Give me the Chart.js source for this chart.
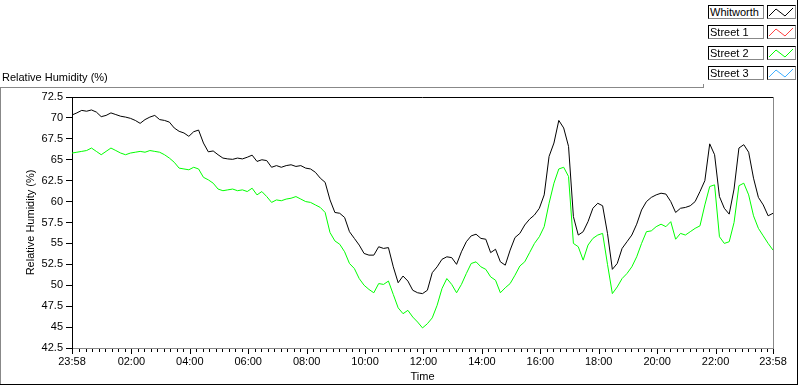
<!DOCTYPE html>
<html><head><meta charset="utf-8">
<script src="https://cdn.jsdelivr.net/npm/chart.js@4.4.1/dist/chart.umd.min.js"></script>
<style>
html,body{margin:0;padding:0;background:#fff;}
body{width:800px;height:386px;position:relative;overflow:hidden;font-family:"Liberation Sans",Arial,sans-serif;}
#c{position:absolute;left:0;top:0;}
.t{position:absolute;font-size:11px;line-height:13px;color:#000;white-space:nowrap;}
.box{position:absolute;box-sizing:border-box;height:14px;border-style:solid;border-width:1px;border-color:#000 #888 #888 #000;background:#fff;overflow:hidden;}
.nm{font-size:11px;line-height:12px;padding-left:1px;white-space:nowrap;color:#000;}
.ln{position:absolute;}
</style></head><body>
<canvas id="c" width="800" height="386"></canvas>
<div class="t" style="left:2px;top:71px">Relative Humidity (%)</div>
<div id="legend"></div>
<div class="ln" style="left:0;top:87px;width:704px;height:1px;background:#888"></div>
<div class="ln" style="left:703px;top:84px;width:1px;height:4px;background:#888"></div>
<div class="ln" style="left:0;top:87px;width:1px;height:298px;background:#888"></div>
<div class="ln" style="left:797px;top:0;width:1px;height:385px;background:#000"></div>
<div class="ln" style="left:0;top:384px;width:798px;height:1px;background:#000"></div>
<script>
// ---- data (one sample every 10 minutes from 23:58) ----
const seriesNames = ['Whitworth', 'Street 1', 'Street 2', 'Street 3'];
const seriesColors = ['#000000', '#ff4040', '#00ff00', '#40b0ff'];

const whitworth = [
70.35,70.6,70.9,70.8,70.95,70.7,70.15,70.3,70.6,70.4,
70.2,70.1,69.95,69.7,69.35,69.8,70.1,70.3,69.8,69.7,
69.5,68.8,68.4,68.2,67.8,68.35,68.55,67.0,65.95,66.05,
65.6,65.2,65.1,65.05,65.2,65.1,65.3,65.55,64.8,65.0,
64.9,64.1,64.3,64.1,64.3,64.4,64.2,64.3,64.0,63.9,
63.5,62.8,62.3,60.2,58.7,58.6,58.1,56.4,55.6,54.8,
53.8,53.6,53.6,54.6,54.4,54.5,52.2,50.3,51.1,50.5,
49.4,49.1,49.0,49.4,51.5,52.2,53.1,53.4,53.3,52.5,
54.0,55.2,55.9,56.1,55.6,55.5,53.9,54.3,52.8,52.4,
54.2,55.7,56.2,57.2,57.9,58.4,59.2,60.8,65.4,67.0,
69.7,68.8,66.6,58.2,56.0,56.4,57.6,59.2,59.8,59.5,
56.2,51.9,52.6,54.4,55.2,56.0,57.3,59.0,60.0,60.5,
60.8,61.0,60.9,60.0,58.7,59.2,59.3,59.5,60.0,61.2,
62.5,66.9,65.6,60.6,59.2,58.5,61.5,66.4,66.8,65.9,
62.8,60.5,59.6,58.3,58.6
];
const street2 = [
65.8,65.9,66.0,66.1,66.4,66.0,65.6,66.0,66.4,66.1,
65.8,65.6,65.8,65.9,66.0,65.9,66.1,66.0,65.9,65.6,
65.2,64.7,64.0,63.9,63.8,64.1,63.9,62.9,62.6,62.2,
61.5,61.3,61.4,61.5,61.3,61.4,61.2,61.6,60.8,61.2,
60.6,59.9,60.2,60.1,60.3,60.4,60.6,60.3,60.0,59.9,
59.6,59.3,58.7,56.3,55.3,54.9,54.0,52.6,52.0,50.8,
50.0,49.5,49.1,50.2,50.1,50.5,48.9,47.3,46.6,47.0,
46.2,45.6,44.9,45.4,46.1,47.6,49.6,50.8,50.1,49.1,
50.1,51.4,52.6,52.8,52.2,51.9,51.0,50.6,49.1,49.7,
50.2,51.2,52.3,52.8,53.9,55.0,55.8,57.0,59.8,62.2,
63.9,64.1,63.0,55.0,54.6,53.0,54.8,55.6,56.0,56.2,
52.5,49.0,49.8,50.8,51.4,52.2,53.4,55.0,56.4,56.5,
57.0,57.3,57.0,57.6,55.5,56.2,56.0,56.4,56.8,57.1,
59.6,61.8,62.0,55.8,55.0,55.2,57.5,61.9,62.2,60.8,
58.3,56.8,55.9,55.0,54.2
];
const sampleStepMinutes = 10;

// axis ticks
const majorTickMinutes = [0,122,242,362,482,602,722,842,962,1082,1202,1322,1440];
const majorTickLabels = ['23:58','02:00','04:00','06:00','08:00','10:00','12:00','14:00','16:00','18:00','20:00','22:00','23:58'];
const yTickValues = [42.5,45,47.5,50,52.5,55,57.5,60,62.5,65,67.5,70,72.5];

// ---- legend (HTML) ----
const legend = document.getElementById('legend');
seriesNames.forEach((name, i) => {
  const top = 5 + Math.round(i * 20.25);
  const nb = document.createElement('div');
  nb.className = 'box';
  nb.style.cssText = `left:708px;top:${top}px;width:56px;`;
  nb.innerHTML = `<div class="nm">${name}</div>`;
  legend.appendChild(nb);
  const sw = document.createElement('div');
  sw.className = 'box';
  sw.style.cssText = `left:767px;top:${top}px;width:29px;`;
  sw.innerHTML = `<svg width="27" height="12" style="display:block"><polyline points="1,10 8,3 17,10 25,2" fill="none" stroke="${seriesColors[i]}" stroke-width="1"/></svg>`;
  legend.appendChild(sw);
});

// ---- chart ----
const FONT = {family: '"Liberation Sans", Arial, sans-serif', size: 11};
const toXY = arr => arr.map((v, i) => ({x: i * sampleStepMinutes, y: v}));

const minorTicks = [];
for (let k = 0; k < majorTickMinutes.length - 1; k++) {
  const a = majorTickMinutes[k], b = majorTickMinutes[k + 1];
  if (k === 0) { for (let j = 8; j >= 1; j--) minorTicks.push(b - j * 120 / 9); }
  else { for (let j = 1; j <= 8; j++) { const v = a + j * 120 / 9; if (v < b - 4) minorTicks.push(v); } }
}

const frameAndTicks = {
  id: 'frameAndTicks',
  afterDraw(chart) {
    const {ctx, chartArea: ca} = chart;
    const xs = chart.scales.x;
    ctx.save();
    ctx.lineWidth = 1;
    // top border (black) and right border (grey) of the plot box
    ctx.strokeStyle = '#000';
    ctx.beginPath(); ctx.moveTo(ca.left, Math.round(ca.top) + 0.5); ctx.lineTo(ca.right, Math.round(ca.top) + 0.5); ctx.stroke();
    ctx.strokeStyle = '#888';
    ctx.beginPath(); ctx.moveTo(Math.round(ca.right) + 0.5, ca.top); ctx.lineTo(Math.round(ca.right) + 0.5, ca.bottom + 1); ctx.stroke();
    // x tick marks
    ctx.strokeStyle = '#000';
    const y0 = Math.round(ca.bottom) + 1;
    minorTicks.forEach(v => {
      const px = Math.round(xs.getPixelForValue(v)) + 0.5;
      ctx.beginPath(); ctx.moveTo(px, y0); ctx.lineTo(px, y0 + 3); ctx.stroke();
    });
    majorTickMinutes.forEach(v => {
      const px = Math.round(xs.getPixelForValue(v)) + 0.5;
      ctx.beginPath(); ctx.moveTo(px, y0); ctx.lineTo(px, y0 + 5); ctx.stroke();
    });
    ctx.restore();
  }
};

new Chart(document.getElementById('c'), {
  type: 'line',
  data: {
    datasets: [
      {label: seriesNames[0], data: toXY(whitworth), borderColor: seriesColors[0], borderWidth: 1, pointRadius: 0, tension: 0, fill: false},
      {label: seriesNames[2], data: toXY(street2), borderColor: seriesColors[2], borderWidth: 1, pointRadius: 0, tension: 0, fill: false}
    ]
  },
  options: {
    responsive: false,
    animation: false,
    devicePixelRatio: 1,
    layout: {padding: {top: 97, right: 27, left: 0, bottom: 0}},
    plugins: {legend: {display: false}, tooltip: {enabled: false}, title: {display: false}},
    scales: {
      x: {
        type: 'linear', min: 0, max: 1440,
        afterBuildTicks: s => { s.ticks = majorTickMinutes.map(v => ({value: v})); },
        afterFit: s => { s.height = 38; },
        ticks: {
          autoSkip: false, maxRotation: 0, padding: 7, color: '#000', font: FONT,
          callback: v => { const i = majorTickMinutes.indexOf(v); return i >= 0 ? majorTickLabels[i] : ''; }
        },
        grid: {display: true, drawOnChartArea: false, drawTicks: false},
        border: {display: true, color: '#888', width: 1},
        title: {display: true, text: 'Time', color: '#000', font: FONT, padding: {top: 0, bottom: 2}}
      },
      y: {
        type: 'linear', min: 42.5, max: 72.5,
        afterBuildTicks: s => { s.ticks = yTickValues.map(v => ({value: v})); },
        afterFit: s => { s.width = 72; },
        ticks: {
          padding: 3, color: '#000', font: FONT,
          callback: v => (Number.isInteger(v) ? String(v) : v.toFixed(1))
        },
        grid: {display: true, drawOnChartArea: false, drawTicks: true, tickLength: 6, tickColor: '#000'},
        border: {display: true, color: '#000', width: 1},
        title: {display: true, text: 'Relative Humidity (%)', color: '#000', font: FONT, padding: {top: 24, bottom: 0}}
      }
    }
  },
  plugins: [frameAndTicks]
});
</script>
</body></html>
